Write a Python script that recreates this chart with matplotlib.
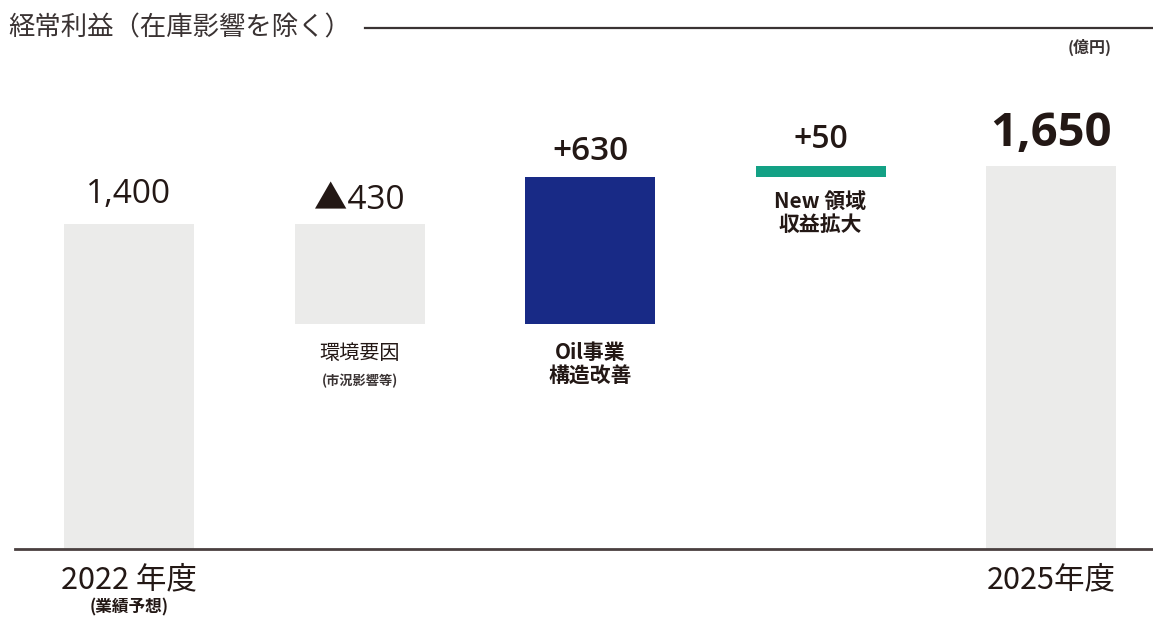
import matplotlib
matplotlib.use("Agg")
import matplotlib.pyplot as plt
from matplotlib.lines import Line2D
import numpy as np

plt.rcParams['font.family'] = ['Noto Sans CJK JP', 'DejaVu Sans']

# ---- data ----
start_value = 1400
end_value = 1650
delta_values = [-430, 630, 50]
categories = ["2022 年度", "環境要因", "Oil事業\n構造改善", "New 領域\n収益拡大", "2025年度"]
value_labels = ["1,400", "▲430", "+630", "+50", "1,650"]
title_text = "経常利益（在庫影響を除く）"
unit_text = "(億円)"
sub_first = "(業績予想)"
sub_env = "(市況影響等)"

# ---- styling ----
GREY = "#ebebea"
NAVY = "#182a86"
TEAL = "#13a185"
TXT = "#231815"
NUMFONT = ['Open Sans', 'Noto Sans CJK JP', 'DejaVu Sans']

W, H = 1153, 619
fig = plt.figure(figsize=(W / 100, H / 100), dpi=100)
ax = fig.add_axes([0, 0, 1, 1])
ax.set_xlim(-0.5597, 4.4425)
ax.set_ylim(-301.3, 2363.3)
ax.axis("off")

x = np.arange(5)
width = 0.564
cum = np.cumsum([start_value] + delta_values)
bottoms = [0]
heights = [start_value]
colors = [GREY]
step_colors = [GREY, NAVY, TEAL]
for i, d in enumerate(delta_values):
    prev = cum[i]
    bottoms.append(min(prev, prev + d))
    heights.append(abs(d))
    colors.append(step_colors[i])
bottoms.append(0)
heights.append(end_value)
colors.append(GREY)

ax.bar(x, heights, bottom=bottoms, width=width, color=colors, zorder=1)

tops = [b + h for b, h in zip(bottoms, heights)]
val_styles = [
    dict(fontsize=24, fontweight="normal", off=9),
    dict(fontsize=24, fontweight="normal", off=5),
    dict(fontsize=24, fontweight="semibold", off=7),
    dict(fontsize=23, fontweight="semibold", off=7),
    dict(fontsize=34, fontweight="bold", off=6),
]
for i in range(5):
    s = val_styles[i]
    ax.annotate(value_labels[i], (x[i], tops[i]), xytext=(0, s["off"]),
                textcoords="offset points", ha="center", va="bottom",
                fontsize=s["fontsize"], fontweight=s["fontweight"], color=TXT,
                family=NUMFONT)

# category labels below the delta bars
lab_styles = [None,
              dict(fontsize=14.5, fontweight="normal", off=-14),
              dict(fontsize=15, fontweight="bold", off=-13),
              dict(fontsize=15, fontweight="bold", off=-10),
              None]
for i in range(1, 4):
    s = lab_styles[i]
    ax.annotate(categories[i], (x[i], bottoms[i]), xytext=(0, s["off"]),
                textcoords="offset points", ha="center", va="top",
                fontsize=s["fontsize"], fontweight=s["fontweight"], color=TXT,
                linespacing=1.1)
ax.annotate(sub_env, (x[1], bottoms[1]), xytext=(0, -36),
            textcoords="offset points", ha="center", va="top",
            fontsize=9.5, fontweight="bold", color="#3a3333")

# baseline
ax.axhline(0, xmin=15 / W, xmax=1, color="#4a4040", lw=2, zorder=2)

# x labels under baseline
ax.annotate(categories[0], (x[0], 0), xytext=(0, -11), textcoords="offset points",
            ha="center", va="top", fontsize=22, color=TXT)
ax.annotate(sub_first, (x[0], 0), xytext=(0, -35.5), textcoords="offset points",
            ha="center", va="top", fontsize=12, fontweight="bold", color=TXT)
ax.annotate(categories[4], (x[4], 0), xytext=(0, -11), textcoords="offset points",
            ha="center", va="top", fontsize=22, color=TXT)

# title and rule
fig.text(8 / W, 1 - 28 / H, title_text, ha="left", va="center",
         fontsize=19, color="#3a3333")
fig.add_artist(Line2D([365 / W, 1.0], [1 - 28 / H] * 2, transform=fig.transFigure,
                      color="#3a3333", lw=1.6))
fig.text(1090 / W, 1 - 47 / H, unit_text, ha="center", va="center",
         fontsize=11.5, fontweight="bold", color="#3a3333")

fig.savefig("out.png", dpi=100)
